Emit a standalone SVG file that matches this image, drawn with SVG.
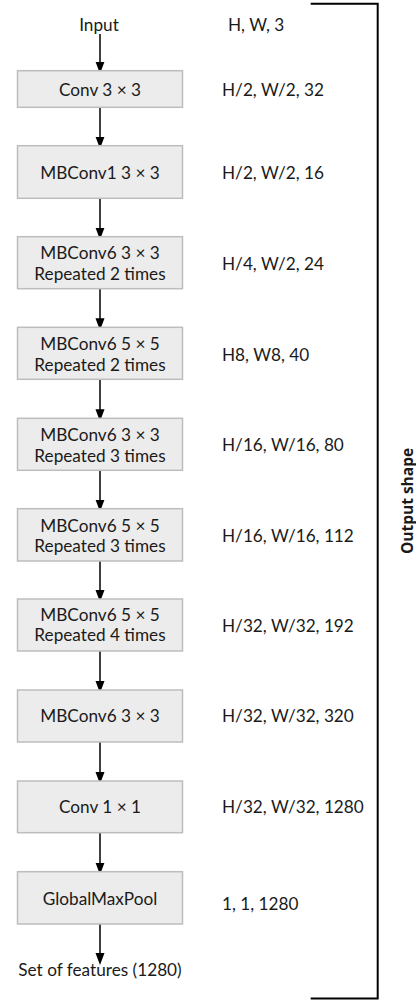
<svg xmlns="http://www.w3.org/2000/svg" width="416" height="1000" viewBox="0 0 416 1000">
<defs>
<marker id="ah" markerWidth="12" markerHeight="16" refX="12" refY="6" orient="auto" markerUnits="userSpaceOnUse" viewBox="0 0 16 12">
<path d="M0,0 L16,6 L0,12 Z" fill="#000"/>
</marker>
<style>
.box{fill:#ececec;stroke:#bdbdbd;stroke-width:1.5}
.t{font-family:Lato,"Open Sans",sans-serif;font-size:17.2px;fill:#1a1a1a}
.c{text-anchor:middle}
.con{stroke:#000;stroke-width:1.5;fill:none;marker-end:url(#ah)}
.br{stroke:#000;stroke-width:2;fill:none}
.lbl{font-family:"Open Sans","Noto Sans",sans-serif;font-size:15.5px;font-weight:bold;fill:#1a1a1a;text-anchor:middle}
</style>
</defs>
<rect width="416" height="1000" fill="#fff"/>
<g id="connectors">
<line class="con" x1="100" y1="34" x2="100" y2="70.7"/>
<line class="con" x1="100" y1="107.3" x2="100" y2="145.7"/>
<line class="con" x1="100" y1="198.3" x2="100" y2="236.7"/>
<line class="con" x1="100" y1="288.7" x2="100" y2="327.3"/>
<line class="con" x1="100" y1="379.3" x2="100" y2="418.3"/>
<line class="con" x1="100" y1="470.3" x2="100" y2="508.7"/>
<line class="con" x1="100" y1="561" x2="100" y2="599"/>
<line class="con" x1="100" y1="651" x2="100" y2="690"/>
<line class="con" x1="100" y1="742" x2="100" y2="781"/>
<line class="con" x1="100" y1="832.7" x2="100" y2="871.7"/>
<line class="con" x1="100" y1="924" x2="100" y2="962"/>
</g>
<g id="input"><text class="t c" x="99" y="31">Input</text></g>
<g id="n1"><rect class="box" x="17.5" y="70.7" width="165" height="36.6"/><text class="t c" x="100" y="96">Conv 3 × 3</text></g>
<g id="n2"><rect class="box" x="17.5" y="145.7" width="165" height="52.6"/><text class="t c" x="100" y="179.3">MBConv1 3 × 3</text></g>
<g id="n3"><rect class="box" x="17.5" y="236.7" width="165" height="52"/><text class="t c" x="100" y="259.3">MBConv6 3 × 3</text><text class="t c" x="100" y="280">Repeated 2 times</text></g>
<g id="n4"><rect class="box" x="17.5" y="327.3" width="165" height="52"/><text class="t c" x="100" y="350">MBConv6 5 × 5</text><text class="t c" x="100" y="370.7">Repeated 2 times</text></g>
<g id="n5"><rect class="box" x="17.5" y="418.3" width="165" height="52"/><text class="t c" x="100" y="441">MBConv6 3 × 3</text><text class="t c" x="100" y="461.7">Repeated 3 times</text></g>
<g id="n6"><rect class="box" x="17.5" y="508.7" width="165" height="52.3"/><text class="t c" x="100" y="531.7">MBConv6 5 × 5</text><text class="t c" x="100" y="552.3">Repeated 3 times</text></g>
<g id="n7"><rect class="box" x="17.5" y="599" width="165" height="52"/><text class="t c" x="100" y="620.7">MBConv6 5 × 5</text><text class="t c" x="100" y="641">Repeated 4 times</text></g>
<g id="n8"><rect class="box" x="17.5" y="690" width="165" height="52"/><text class="t c" x="100" y="722.3">MBConv6 3 × 3</text></g>
<g id="n9"><rect class="box" x="17.5" y="781" width="165" height="51.7"/><text class="t c" x="100" y="813.3">Conv 1 × 1</text></g>
<g id="n10"><rect class="box" x="17.5" y="871.7" width="165" height="52.3"/><text class="t c" x="100" y="905">GlobalMaxPool</text></g>
<g id="output"><text class="t c" x="100" y="975.7">Set of features (1280)</text></g>
<g id="shapes">
<text class="t" x="228" y="31">H, W, 3</text>
<text class="t" x="222" y="96">H/2, W/2, 32</text>
<text class="t" x="222" y="179.3">H/2, W/2, 16</text>
<text class="t" x="222" y="270">H/4, W/2, 24</text>
<text class="t" x="222" y="361">H8, W8, 40</text>
<text class="t" x="222" y="451">H/16, W/16, 80</text>
<text class="t" x="222" y="541.7">H/16, W/16, 112</text>
<text class="t" x="222" y="631.7">H/32, W/32, 192</text>
<text class="t" x="222" y="722.3">H/32, W/32, 320</text>
<text class="t" x="222" y="813.3">H/32, W/32, 1280</text>
<text class="t" x="222" y="910">1, 1, 1280</text>
</g>
<g id="bracket">
<path class="br" d="M310.7,3.7 H377.7 V998.5 H310.7"/>
<text class="lbl" transform="translate(413,501) rotate(-90)">Output shape</text>
</g>
</svg>
